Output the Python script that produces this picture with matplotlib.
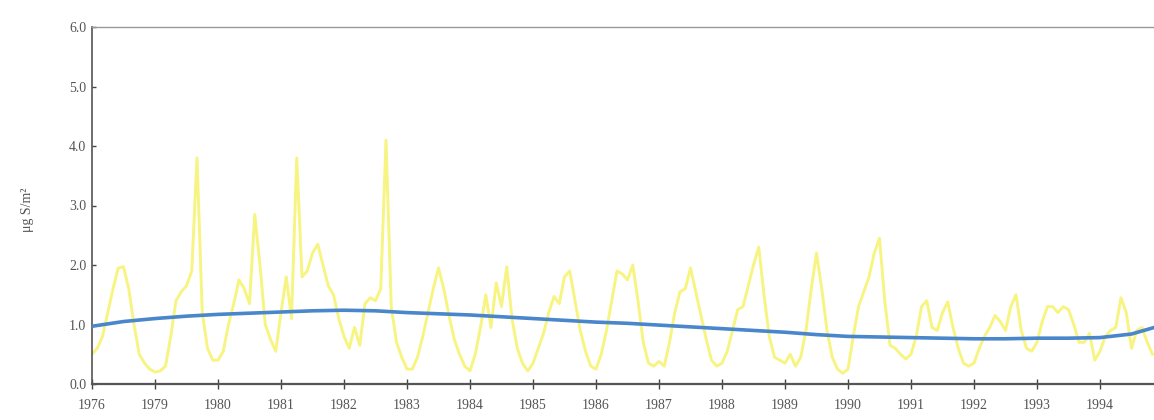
import numpy as np
import matplotlib
matplotlib.use("Agg")
import matplotlib.pyplot as plt

# ---- data (monthly values) ----
start_year = 1978
v1978 = [0.5, 0.6, 0.8, 1.2, 1.6, 1.95, 1.97, 1.6, 1.0, 0.5, 0.35, 0.25]
v1979 = [0.2, 0.22, 0.3, 0.8, 1.4, 1.55, 1.65, 1.9, 3.8, 1.2, 0.6, 0.4]
v1980 = [0.4, 0.55, 1.0, 1.35, 1.75, 1.6, 1.35, 2.85, 2.0, 1.0, 0.75, 0.55]
v1981 = [1.2, 1.8, 1.1, 3.8, 1.8, 1.9, 2.2, 2.35, 2.0, 1.65, 1.5, 1.1]
v1982 = [0.8, 0.6, 0.95, 0.65, 1.35, 1.45, 1.4, 1.6, 4.1, 1.3, 0.7, 0.45]
v1983 = [0.25, 0.25, 0.45, 0.8, 1.2, 1.6, 1.95, 1.6, 1.15, 0.75, 0.5, 0.3]
v1984 = [0.22, 0.5, 0.95, 1.5, 0.95, 1.7, 1.3, 1.97, 1.1, 0.6, 0.35, 0.22]
v1985 = [0.35, 0.6, 0.85, 1.2, 1.47, 1.35, 1.8, 1.9, 1.4, 0.9, 0.55, 0.3]
v1986 = [0.25, 0.5, 0.9, 1.4, 1.9, 1.85, 1.75, 2.0, 1.4, 0.7, 0.35, 0.3]
v1987 = [0.38, 0.3, 0.7, 1.2, 1.55, 1.6, 1.95, 1.55, 1.15, 0.75, 0.4, 0.3]
v1988 = [0.35, 0.55, 0.9, 1.25, 1.3, 1.65, 2.0, 2.3, 1.5, 0.8, 0.45, 0.4]
v1989 = [0.35, 0.5, 0.3, 0.45, 0.9, 1.6, 2.2, 1.6, 0.9, 0.45, 0.25, 0.18]
v1990 = [0.25, 0.8, 1.3, 1.55, 1.8, 2.2, 2.45, 1.4, 0.65, 0.6, 0.5, 0.42]
v1991 = [0.5, 0.8, 1.3, 1.4, 0.95, 0.9, 1.2, 1.38, 0.95, 0.6, 0.35, 0.3]
v1992 = [0.35, 0.6, 0.8, 0.95, 1.15, 1.05, 0.9, 1.3, 1.5, 0.9, 0.6, 0.55]
v1993 = [0.7, 1.05, 1.3, 1.3, 1.2, 1.3, 1.25, 1.0, 0.7, 0.7, 0.85, 0.4]
v1994 = [0.55, 0.8, 0.9, 0.95, 1.45, 1.2, 0.6, 0.9, 0.95, 0.7, 0.5]

monthly = (v1978 + v1979 + v1980 + v1981 + v1982 + v1983 + v1984 + v1985 +
           v1986 + v1987 + v1988 + v1989 + v1990 + v1991 + v1992 + v1993 + v1994)

# trend line (half-year knots)
trend_t = [1978.0, 1978.5, 1979.0, 1979.5, 1980.0, 1980.5, 1981.0, 1981.5,
           1982.0, 1982.5, 1983.0, 1983.5, 1984.0, 1984.5, 1985.0, 1985.5,
           1986.0, 1986.5, 1987.0, 1987.5, 1988.0, 1988.5, 1989.0, 1989.5,
           1990.0, 1990.5, 1991.0, 1991.5, 1992.0, 1992.5, 1993.0, 1993.5,
           1994.0, 1994.5, 1994.86]
trend_v = [0.97, 1.05, 1.10, 1.14, 1.17, 1.19, 1.21, 1.23,
           1.24, 1.23, 1.20, 1.18, 1.16, 1.13, 1.10, 1.07,
           1.04, 1.02, 0.99, 0.96, 0.93, 0.90, 0.87, 0.83,
           0.80, 0.79, 0.78, 0.77, 0.76, 0.76, 0.77, 0.77,
           0.78, 0.84, 0.95]

tick_years = list(range(1978, 1995))
tick_labels = ["1976", "1979", "1980", "1981", "1982", "1983", "1984", "1985",
               "1986", "1987", "1988", "1989", "1990", "1991", "1992", "1993", "1994"]
y_ticks = [0.0, 1.0, 2.0, 3.0, 4.0, 5.0, 6.0]
y_label = "μg S/m²"

# ---- figure ----
fig = plt.figure(figsize=(11.54, 4.2), dpi=100)
ax = fig.add_axes([92 / 1154, 1 - 384 / 420, 1 - 92 / 1154, (384 - 27) / 420])

t = start_year + np.arange(len(monthly)) / 12.0
ax.plot(t, monthly, color="#f7f482", lw=2.1, solid_joinstyle="round", zorder=2)
ax.plot(trend_t, trend_v, color="#4a86cc", lw=2.6, zorder=3)

ax.set_xlim(1978, 1978 + (1154 - 92) / 63.0)
ax.set_ylim(0, 6)

serif = ["Liberation Serif", "DejaVu Serif"]
ax.set_yticks(y_ticks)
ax.set_yticklabels([f"{v:.1f}" for v in y_ticks], family=serif, fontsize=10, color="#555555")
ax.set_xticks(tick_years)
ax.set_xticklabels(tick_labels, family=serif, fontsize=10, color="#555555")

ax.tick_params(axis="y", direction="in", length=3, width=1, color="#444444", pad=4)
ax.tick_params(axis="x", direction="inout", length=7, width=1, color="#444444", pad=7)

ax.spines["right"].set_visible(False)
ax.spines["left"].set_color("#555555")
ax.spines["left"].set_linewidth(1.2)
ax.spines["bottom"].set_color("#555555")
ax.spines["bottom"].set_linewidth(1.6)
ax.spines["top"].set_color("#999999")
ax.spines["top"].set_linewidth(1.0)

fig.text(27 / 1154, 1 - 210 / 420, y_label, rotation=90, ha="center", va="center",
         family=serif, fontsize=10, color="#555555")

fig.savefig("out.png", dpi=100)
